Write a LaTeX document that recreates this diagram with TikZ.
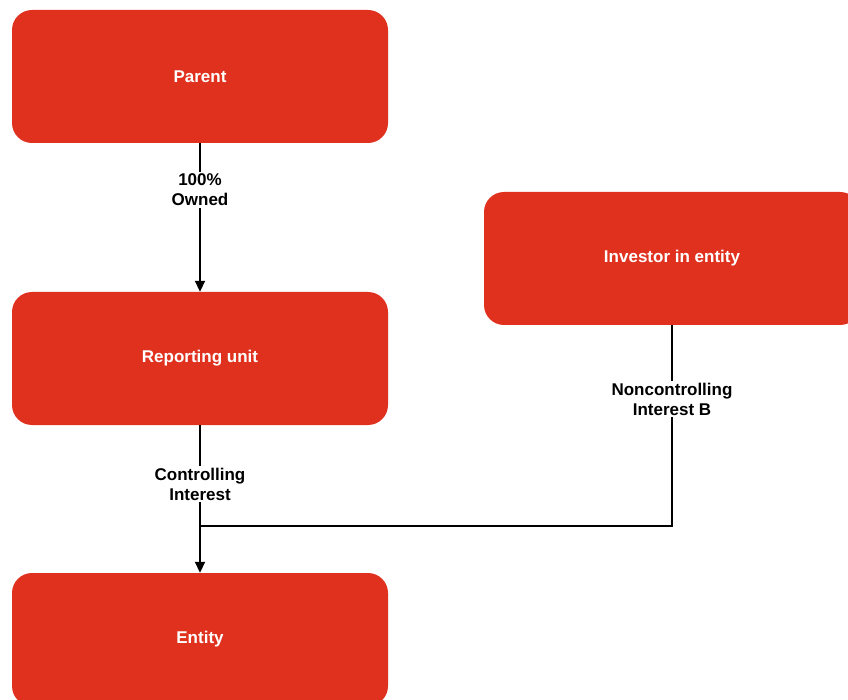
\documentclass[tikz,border=0pt]{standalone}
\usepackage{fontspec}
\setmainfont{Liberation Sans}
\usetikzlibrary{arrows.meta}

\definecolor{boxred}{HTML}{E0311F}

\tikzset{
	unitbox/.style={fill=boxred, draw=none, rounded corners=20pt, text=white,
		minimum width=376pt, minimum height=133pt,
		font=\bfseries\fontsize{17}{20}\selectfont, inner sep=0pt},
	share/.style={fill=white, align=center, inner sep=2pt,
		font=\bfseries\fontsize{17}{20}\selectfont},
	link/.style={line width=1.8pt, black},
	tip/.style={-{Stealth[length=11pt, width=10pt, inset=0pt]}}
}

\begin{document}
\begin{tikzpicture}[x=1pt, y=-1pt]
	\useasboundingbox (0,0) rectangle (848,700);
	% die Gesellschaften
	\node[unitbox] (parent) at (200,76.5) {Parent};
	\node[unitbox] (reporting) at (200,358.5) {Reporting unit};
	\node[unitbox] (entity) at (200,639.5) {Entity};
	\node[unitbox] (investor) at (672,258.5) {Investor in entity};
	% Beteiligungen
	\coordinate (join) at (200,526);
	\draw[link, tip] (parent) -- (reporting);
	\draw[link] (reporting) -- (join);
	\draw[link] (investor) |- (join);
	\draw[link, tip] (join) -- (entity);
	% Beschriftung an den Linien
	\node[share] (owned) at (200,190) {100\%\\Owned};
	\node[share] (controlling) at (200,484) {Controlling\\Interest};
	\node[share] (noncontrolling) at (672,399) {Noncontrolling\\Interest B};
\end{tikzpicture}
\end{document}
